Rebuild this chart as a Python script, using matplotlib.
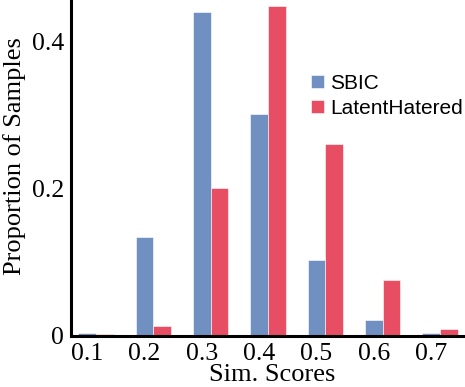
import matplotlib.pyplot as plt
import numpy as np

scores = [0.1, 0.2, 0.3, 0.4, 0.5, 0.6, 0.7]
tick_labels = ["0.1", "0.2", "0.3", "0.4", "0.5", "0.6", "0.7"]
sbic = [0.004, 0.135, 0.441, 0.302, 0.103, 0.022, 0.004]
latent_hatered = [0.003, 0.013, 0.201, 0.449, 0.261, 0.076, 0.0095]

blue = "#7090c2"
red = "#e84e63"
width = 0.031

fig = plt.figure(figsize=(4.65, 3.87), dpi=100)
ax = fig.add_axes([71 / 465, 51 / 387, 394 / 465, 336 / 387])

x = np.asarray(scores)
ax.bar(x, sbic, width, color=blue, edgecolor="white", linewidth=0.4, label="SBIC")
ax.bar(x + width, latent_hatered, width, color=red, edgecolor="white", linewidth=0.4,
       label="LatentHatered")

ax.set_xlim(0.072, 0.759)
ax.set_ylim(0, 0.457)
ax.set_xticks(x)
ax.set_xticklabels(tick_labels)
ax.set_yticks([0, 0.2, 0.4])
ax.set_yticklabels(["0", "0.2", "0.4"])

for side in ["top", "right"]:
    ax.spines[side].set_visible(False)
for side in ["left", "bottom"]:
    ax.spines[side].set_linewidth(2.2)

serif = "Liberation Serif"
ax.tick_params(length=0, pad=5, labelsize=18.5)
for lab in ax.get_xticklabels() + ax.get_yticklabels():
    lab.set_family(serif)

fig.text(15 / 465, 1 - 156 / 387, "Proportion of Samples", rotation=90,
         ha="center", va="center", family=serif, fontsize=19)
fig.text(272 / 465, 1 - 375 / 387, "Sim. Scores", ha="center", va="center",
         family=serif, fontsize=19)

ax.legend(loc="upper left", bbox_to_anchor=(311 / 465, 1 - 74 / 387),
          bbox_transform=fig.transFigure, frameon=False, borderpad=0,
          borderaxespad=0, handlelength=0.62, handleheight=0.62,
          handletextpad=0.3, labelspacing=0.28,
          prop={"family": "Liberation Sans", "size": 15})

fig.savefig("out.png", dpi=100)
